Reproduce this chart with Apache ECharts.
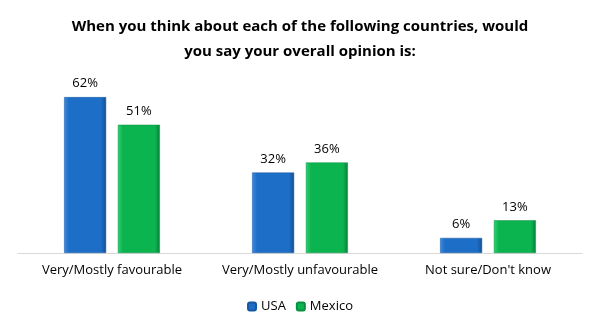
<!DOCTYPE html>
<html>
<head>
<meta charset="utf-8">
<script src="https://cdn.jsdelivr.net/npm/echarts@6/dist/echarts.min.js"></script>
<style>html,body{margin:0;padding:0;background:#fff;}#c{width:600px;height:330px;}</style>
</head>
<body>
<div id="c"></div>
<script>
const categories = ['Very/Mostly favourable', 'Very/Mostly unfavourable', "Not sure/Don't know"];
const usa = [62, 32, 6];
const mexico = [51, 36, 13];
const seriesNames = ['USA', 'Mexico'];

function grad(light, mid, dark) {
  return new echarts.graphic.LinearGradient(0, 0, 1, 0, [
    {offset: 0, color: light},
    {offset: 0.12, color: mid},
    {offset: 0.88, color: mid},
    {offset: 1, color: dark}
  ]);
}

const chart = echarts.init(document.getElementById('c'));
const font = '"Open Sans", "Liberation Sans", sans-serif';
chart.setOption({
  animation: false,
  title: {
    text: 'When you think about each of the following countries, would\nyou say your overall opinion is:',
    left: 'center', top: 9,
    textStyle: {fontFamily: font, fontWeight: 'bold', fontSize: 15, lineHeight: 25, color: '#000'}
  },
  legend: {
    bottom: 12, left: 'center', itemWidth: 8, itemHeight: 8, itemGap: 10,
    textStyle: {fontFamily: font, fontSize: 13, color: '#000'},
    data: seriesNames
  },
  grid: {left: 18, right: 18, top: 77, bottom: 77},
  xAxis: {
    type: 'category', data: categories,
    axisLine: {lineStyle: {color: '#d9d9d9'}},
    axisTick: {show: false},
    axisLabel: {fontFamily: font, fontSize: 13, color: '#000', margin: 11, interval: 0}
  },
  yAxis: {type: 'value', min: 0, max: 70, show: false, splitLine: {show: false}},
  series: [
    {name: seriesNames[0], type: 'bar', data: usa, barWidth: 42, barGap: '28%',
     itemStyle: {color: grad('#3a8be0', '#1c6ec6', '#154f90'), borderColor: '#1858a0', borderWidth: 0.5},
     label: {show: true, position: 'top', distance: 7, formatter: '{c}%', fontFamily: font, fontSize: 13, color: '#000'}},
    {name: seriesNames[1], type: 'bar', data: mexico, barWidth: 42,
     itemStyle: {color: grad('#2fd170', '#0cb450', '#08803a'), borderColor: '#089040', borderWidth: 0.5},
     label: {show: true, position: 'top', distance: 7, formatter: '{c}%', fontFamily: font, fontSize: 13, color: '#000'}}
  ]
});
</script>
</body>
</html>
